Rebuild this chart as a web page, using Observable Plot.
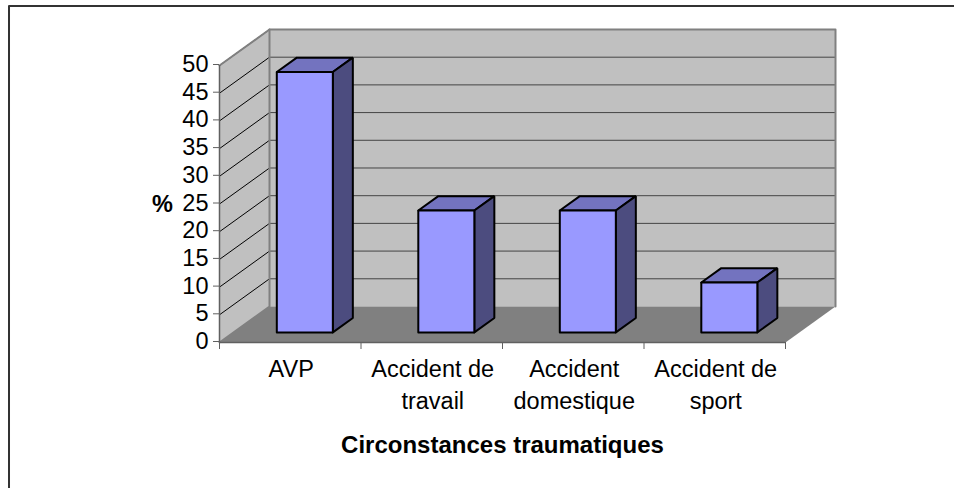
<!DOCTYPE html>
<html><head><meta charset="utf-8">
<script src="https://cdn.jsdelivr.net/npm/d3@7"></script>
<script src="https://cdn.jsdelivr.net/npm/@observablehq/plot@0.6"></script>
<style>html,body{margin:0;padding:0;background:#fff}svg{display:block}</style>
</head><body><div id="c"></div>
<script>
const categories = ["AVP", "Accident de\ntravail", "Accident\ndomestique", "Accident de\nsport"];
const values = [47, 22, 22, 9];
const yTicks = [0, 5, 10, 15, 20, 25, 30, 35, 40, 45, 50];
const yLabel = "%";
const xLabel = "Circonstances traumatiques";

// oblique projection of the depth axis, expressed in data units
const depthX = 0.3534, depthY = 6.5;
const project = (u, v, d) => ({x: u + d * depthX, y: v + d * depthY});
const barGap = 0.306, barW = 0.396, d0 = 0.28, d1 = 0.68;
const n = categories.length, yMax = 50;

const poly = (id, fill, pts) => pts.map(p => ({id, fill, ...project(...p)}));
let walls = [
  ...poly("side", "#c0c0c0", [[0,0,0],[0,yMax,0],[0,yMax,1],[0,0,1]]),
  ...poly("back", "#c0c0c0", [[0,0,1],[0,yMax,1],[n,yMax,1],[n,0,1]]),
  ...poly("floor", "#808080", [[0,0,0],[0,0,1],[n,0,1],[n,0,0]])
];
const gridLevels = yTicks.filter(t => t > 0);
const gridSide = gridLevels.flatMap(t => [{id: t, ...project(0,t,0)}, {id: t, ...project(0,t,1)}]);
const gridBack = gridLevels.flatMap(t => [{id: t, ...project(0,t,1)}, {id: t, ...project(n,t,1)}]);
const wallEdges = [
  {id:"a",...project(0,yMax,0)},{id:"a",...project(0,yMax,1)},{id:"a",...project(n,yMax,1)},
  {id:"a",...project(n,0,1)},
  {id:"b",...project(0,yMax,1)},{id:"b",...project(0,0,1)},{id:"b",...project(0,0,0)}
];
const bars = values.flatMap((v, i) => {
  const a = i + barGap, b = a + barW;
  return [
    ...poly("t"+i, "#7373bf", [[a,v,d0],[a,v,d1],[b,v,d1],[b,v,d0]]),
    ...poly("s"+i, "#4c4c7f", [[b,0,d0],[b,v,d0],[b,v,d1],[b,0,d1]]),
    ...poly("f"+i, "#9999ff", [[a,0,d0],[a,v,d0],[b,v,d0],[b,0,d0]])
  ];
});
const closed = rows => d3.groups(rows, r => r.id).flatMap(([, g]) => [...g, g[0]]);
const lineFill = (rows, o) => Plot.line(closed(rows), {x:"x", y:"y", z:"id", fill:"fill", curve:"linear", ...o});
const ff = "'Liberation Sans', Arial, sans-serif";
const axisColor = "#606060";
const fs = 23.5;

const chart = Plot.plot({
  width: 954, height: 488,
  marginLeft: 219, marginRight: 169, marginTop: 65, marginBottom: 146,
  style: {background: "#fff", fontFamily: ff, overflow: "visible"},
  x: {domain: [0, n], range: [219, 785], axis: null},
  y: {domain: [0, yMax], range: [342, 65], axis: null},
  marks: [
    // outer chart border (left and top edges only reach the image)
    Plot.ruleX([-1.4876], {y1:60.74, y2:-26.4, stroke:"#333", strokeWidth:2}),
    Plot.ruleY([60.74], {x1:-1.4876, x2:5.2, stroke:"#333", strokeWidth:2}),
    lineFill(walls, {stroke: "none"}),
    Plot.line(gridSide, {x:"x", y:"y", z:"id", stroke:"#000", strokeWidth:1, curve:"linear"}),
    Plot.line(gridBack, {x:"x", y:"y", z:"id", stroke:"#444", strokeWidth:1, curve:"linear"}),
    Plot.line(wallEdges, {x:"x", y:"y", z:"id", stroke:"#808080", strokeWidth:2, curve:"linear"}),
    Plot.ruleX([0], {y1:0, y2:yMax, stroke:axisColor, strokeWidth:1.5}),
    Plot.ruleY([0], {x1:0, x2:n, stroke:axisColor, strokeWidth:1.5}),
    Plot.axisY({ticks: yTicks, anchor:"left", tickSize:6, tickPadding:5, fontSize:fs, stroke:axisColor, label:null, fill:"#000", dy:-1}),
    Plot.axisX({ticks: d3.range(n+1), tickFormat:()=>"", anchor:"bottom", tickSize:7, stroke:axisColor, label:null}),
    lineFill(bars, {stroke:"#000", strokeWidth:2, strokeLinejoin:"miter"}),
    Plot.text(categories, {x:(d,i)=>i+0.5, y:0, text:d=>d, dx:1, dy:12, lineAnchor:"top", lineHeight:1.36, fontSize:fs, fill:"#000", letterSpacing:"0.15px"}),
    Plot.text([xLabel], {x:n/2, y:0, dy:103, text:d=>d, fontSize:24, fontWeight:"bold", fill:"#000"}),
    Plot.text([yLabel], {x:0, y:25, dx:-57, text:d=>d, fontSize:fs, fontWeight:"bold", fill:"#000"})
  ]
});
document.getElementById("c").append(chart);
</script></body></html>
